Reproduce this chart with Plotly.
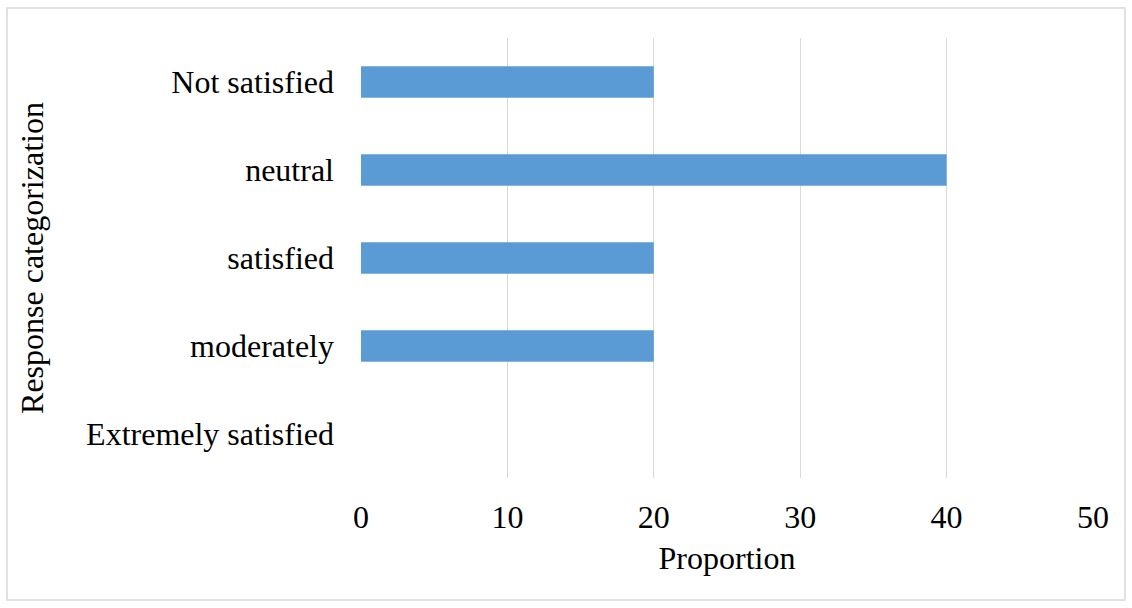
import plotly.graph_objects as go

categories = ["Extremely satisfied", "moderately", "satisfied", "neutral", "Not satisfied"]
values = [0, 20, 20, 40, 20]
x_ticks = [0, 10, 20, 30, 40, 50]

FONT = "Liberation Serif, Times New Roman, serif"

fig = go.Figure(
    go.Bar(
        y=categories,
        x=values,
        orientation="h",
        marker=dict(color="#5B9BD5", line=dict(width=0)),
        width=0.36,
    )
)

L, R, T, B = 361, 39, 38, 130
W, H = 1132, 608
pw, ph = W - L - R, H - T - B

fig.update_layout(
    width=W,
    height=H,
    margin=dict(l=L, r=R, t=T, b=B, autoexpand=False),
    paper_bgcolor="white",
    plot_bgcolor="white",
    font=dict(family=FONT, size=32, color="#000000"),
    showlegend=False,
    shapes=[
        dict(
            type="rect",
            xref="paper",
            yref="paper",
            x0=(7 - L) / pw,
            x1=(1125 - L) / pw,
            y0=(H - B - 600) / ph,
            y1=(H - B - 8) / ph,
            line=dict(color="#d9d9d9", width=1.5),
            fillcolor="rgba(0,0,0,0)",
            layer="below",
        )
    ],
)

fig.update_xaxes(
    range=[0, 50],
    tickvals=x_ticks,
    showgrid=True,
    gridcolor="#d9d9d9",
    gridwidth=1,
    zeroline=False,
    showline=False,
    ticks="",
    ticklabelstandoff=17,
    title=dict(text="Proportion", standoff=12, font=dict(size=32)),
    automargin=False,
)

fig.update_yaxes(
    categoryorder="array",
    categoryarray=categories,
    showgrid=False,
    zeroline=False,
    showline=False,
    ticks="",
    ticklabelstandoff=26,
    title=dict(text="Response categorization", standoff=32, font=dict(size=32)),
    automargin=False,
)

fig.write_html("out.html")
